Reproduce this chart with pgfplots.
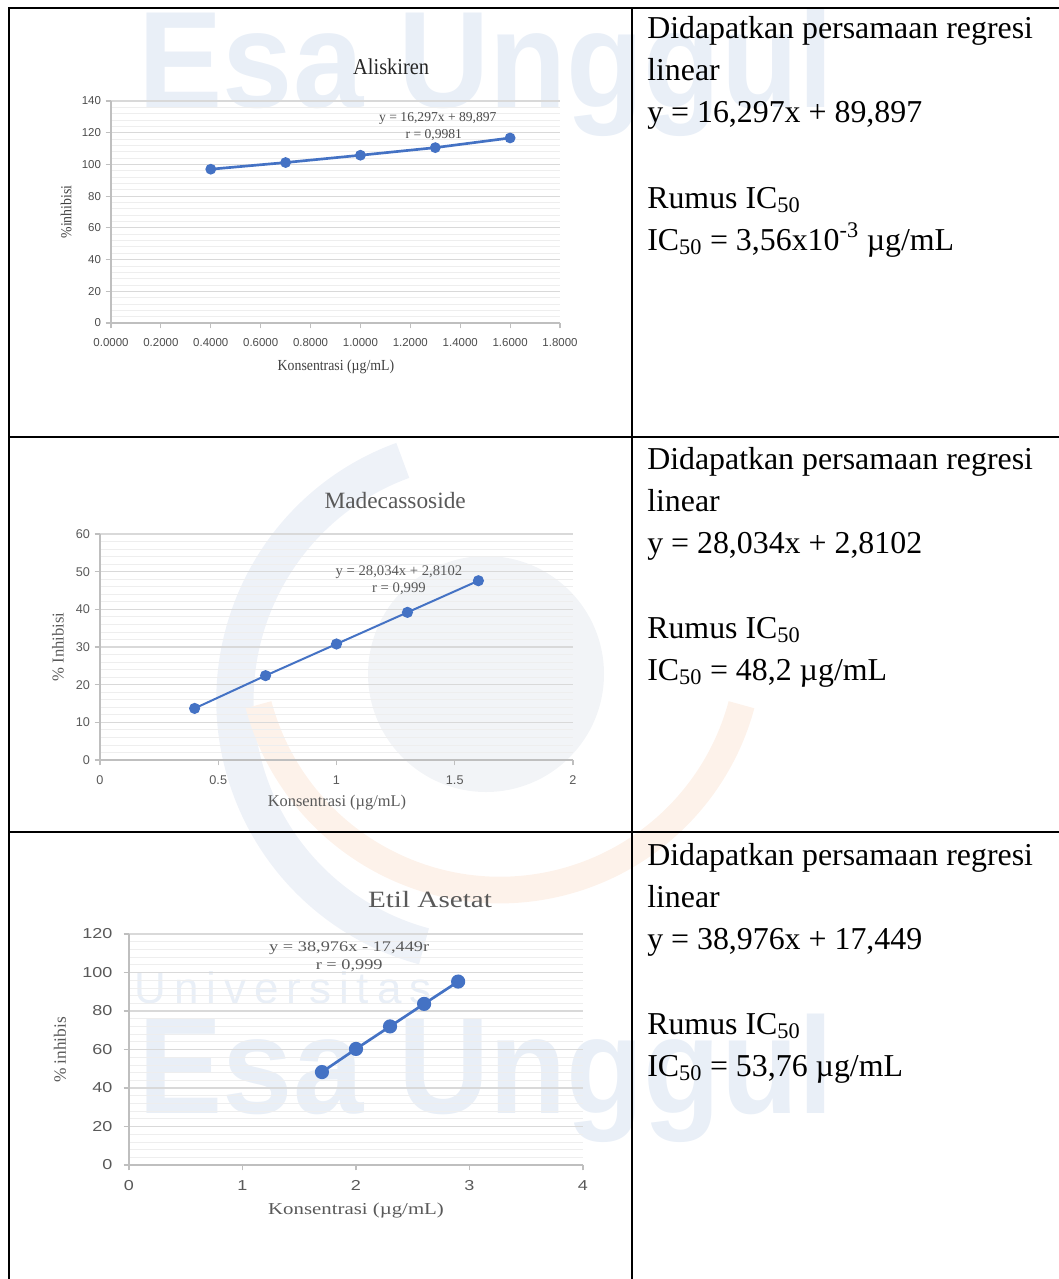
\documentclass[border=0pt]{standalone}
\usepackage{fontspec}
\setmainfont{Liberation Serif}
\newfontfamily\lsans{Liberation Sans}
\newfontfamily\lsansb{Liberation Sans Bold}
\newfontfamily\wsans[FakeStretch=1.25]{Liberation Sans}
\newfontfamily\wserif[FakeStretch=1.25]{Liberation Serif}
\newfontfamily\nserif[FakeStretch=0.9]{Liberation Serif}
\usepackage{pgfplots}
\pgfplotsset{compat=1.18}
\definecolor{xlblue}{HTML}{4472C4}
\definecolor{gridmaj}{HTML}{D9D9D9}
\definecolor{gridmin}{HTML}{EEEEEE}
\definecolor{axgray}{HTML}{BFBFBF}
\definecolor{txtgray}{HTML}{595959}
\definecolor{wmblue}{HTML}{E9EFF7}
\definecolor{wmring}{HTML}{EEF2F8}
\definecolor{wmgray}{HTML}{F2F4F7}
\definecolor{wmorange}{HTML}{FDF2EA}
\pgfplotsset{
 xl/.style={
  scale only axis, anchor=south west,
  axis lines*=left,
  axis line style={axgray, line width=0.9pt},
  tick align=outside, major tick length=4pt, minor tick length=0pt,
  every tick/.style={axgray, line width=0.8pt},
  ymajorgrids, yminorgrids,
  major grid style={gridmaj, line width=0.9pt},
  minor grid style={gridmin, line width=0.6pt},
  clip=false,
  /pgf/number format/assume math mode=true,
  tick label style={txtgray},
  title style={anchor=center},
  xlabel style={anchor=center},
  ylabel style={anchor=center},
 }
}
\begin{document}
\begin{tikzpicture}
\useasboundingbox (0,0) rectangle (794.25pt,-959.25pt);
\begin{scope}[x=0.75pt,y=-0.75pt]
 % watermark
 \fill[wmgray] (486,674) circle (118);
 \draw[wmring, line width=28pt] (490,700) ++(250:255) arc (250:105:255);
 \draw[wmorange, line width=20pt] (500,640) ++(165:250) arc (165:15:250);
 \node[wmblue, font=\lsansb\fontsize{103}{103}\selectfont, xscale=0.92, anchor=base] at (486,107) {Esa Unggul};
 \node[wmblue, font=\lsansb\fontsize{103}{103}\selectfont, xscale=0.92, anchor=base] at (486,1113) {Esa Unggul};
 \node[wmblue, font=\lsans\fontsize{33}{33}\selectfont\addfontfeature{LetterSpace=18}, anchor=base west] at (130,1003) {Universitas};
 % table lines
 \draw[line width=1.9pt] (8,8) -- (1059,8);
 \draw[line width=1.5pt] (9,8) -- (9,1279);
 \draw[line width=1.5pt] (632,8) -- (632,1279);
 \draw[line width=1.5pt] (9,437) -- (1059,437);
 \draw[line width=1.5pt] (9,832) -- (1059,832);
 % right column text
 \begin{scope}[every node/.style={anchor=base west, inner sep=0pt, font=\fontsize{23.9}{28}\selectfont}]
  \node at (647,38) {Didapatkan persamaan regresi};
  \node at (647,80) {linear};
  \node at (647,122) {y = 16,297x + 89,897};
  \node at (647,208) {Rumus IC\textsubscript{50}};
  \node at (647,250) {IC\textsubscript{50} = 3,56x10\textsuperscript{-3} µg/mL};
  \node at (647,469) {Didapatkan persamaan regresi};
  \node at (647,511) {linear};
  \node at (647,553) {y = 28,034x + 2,8102};
  \node at (647,638) {Rumus IC\textsubscript{50}};
  \node at (647,680) {IC\textsubscript{50} = 48,2 µg/mL};
  \node at (647,865) {Didapatkan persamaan regresi};
  \node at (647,907) {linear};
  \node at (647,949) {y = 38,976x + 17,449};
  \node at (647,1034) {Rumus IC\textsubscript{50}};
  \node at (647,1076) {IC\textsubscript{50} = 53,76 µg/mL};
 \end{scope}
\end{scope}

% Chart 1: Aliskiren
\begin{axis}[xl,
  at={(83.25pt,-242.25pt)}, width=336.75pt, height=166.5pt,
  xmin=0, xmax=1.8, ymin=0, ymax=140,
  xtick={0,0.2,0.4,0.6,0.8,1.0,1.2,1.4,1.6,1.8},
  ytick={0,20,...,140}, minor y tick num=4,
  xticklabel style={yshift=-4pt, /pgf/number format/.cd, fixed, fixed zerofill, precision=4},
  tick label style={font=\lsans\fontsize{8.6}{10}\selectfont, color=black!70},
  title={Aliskiren},
  title style={at={(axis description cs:0.624,1.118)}, font=\nserif\fontsize{17}{19}\selectfont, black!85},
  xlabel={Konsentrasi (µg/mL)},
  xlabel style={at={(axis description cs:0.501,-0.198)}, font=\nserif\fontsize{11.5}{13}\selectfont, black!75},
  ylabel={\%inhibisi},
  ylabel style={at={(axis description cs:-0.100,0.5)}, font=\nserif\fontsize{11.5}{13}\selectfont, black!75},
]
\addplot[xlblue, line width=2pt, mark=*, mark size=3pt, mark options={fill=xlblue, draw=xlblue}]
 coordinates {(0.4,97.0) (0.7,101.2) (1.0,105.8) (1.3,110.6) (1.6,116.7)};
\node[font=\fontsize{10.2}{12}\selectfont, black!70] at (axis description cs:0.728,0.923) {y = 16,297x + 89,897};
\node[font=\fontsize{10.2}{12}\selectfont, black!70] at (axis description cs:0.719,0.847) {r = 0,9981};
\end{axis}

% Chart 2: Madecassoside
\begin{axis}[xl,
  at={(75pt,-570pt)}, width=354.75pt, height=169.5pt,
  xmin=0, xmax=2, ymin=0, ymax=60,
  xtick={0,0.5,1,1.5,2},
  ytick={0,10,...,60}, minor y tick num=4,
  xticklabel style={yshift=-4pt},
  tick label style={font=\lsans\fontsize{9.5}{11}\selectfont},
  title={Madecassoside},
  title style={at={(axis description cs:0.624,1.115)}, font=\fontsize{17.5}{20}\selectfont, txtgray},
  xlabel={Konsentrasi (µg/mL)},
  xlabel style={at={(axis description cs:0.501,-0.190)}, font=\fontsize{12.3}{14}\selectfont, txtgray},
  ylabel={\% Inhibisi},
  ylabel style={at={(axis description cs:-0.089,0.5)}, font=\fontsize{12.5}{14}\selectfont, txtgray},
]
\addplot[xlblue, line width=1.5pt, mark=*, mark size=3.4pt, mark options={fill=xlblue, draw=xlblue}]
 coordinates {(0.4,13.7) (0.7,22.4) (1.0,30.8) (1.3,39.2) (1.6,47.6)};
\node[font=\fontsize{11}{13}\selectfont, txtgray] at (axis description cs:0.632,0.832) {y = 28,034x + 2,8102};
\node[font=\fontsize{11}{13}\selectfont, txtgray] at (axis description cs:0.632,0.757) {r = 0,999};
\end{axis}

% Chart 3: Etil Asetat
\begin{axis}[xl,
  at={(96.75pt,-873.75pt)}, width=340.5pt, height=173.25pt,
  xmin=0, xmax=4, ymin=0, ymax=120,
  xtick={0,1,2,3,4},
  ytick={0,20,...,120}, minor y tick num=4,
  xticklabel style={yshift=-4pt},
  yticklabel style={xshift=-5pt},
  tick label style={font=\wsans\fontsize{10.8}{13}\selectfont},
  title={Etil Asetat},
  title style={at={(axis description cs:0.663,1.113)}, font=\wserif\fontsize{17.5}{20}\selectfont, txtgray},
  xlabel={Konsentrasi (µg/mL)},
  xlabel style={at={(axis description cs:0.500,-0.195)}, font=\wserif\fontsize{12.5}{14}\selectfont, txtgray},
  ylabel={\% inhibis},
  ylabel style={at={(axis description cs:-0.152,0.498)}, font=\fontsize{13}{15}\selectfont, txtgray},
]
\addplot[xlblue, line width=2pt, mark=*, mark size=4.3pt, mark options={fill=xlblue, draw=xlblue}]
 coordinates {(1.7,48.3) (2.0,60.3) (2.3,72.0) (2.6,83.7) (2.9,95.3)};
\node[font=\wserif\fontsize{11}{13}\selectfont, txtgray] at (axis description cs:0.485,0.939) {y = 38,976x - 17,449r};
\node[font=\wserif\fontsize{11}{13}\selectfont, txtgray] at (axis description cs:0.485,0.861) {r = 0,999};
\end{axis}
\end{tikzpicture}
\end{document}
